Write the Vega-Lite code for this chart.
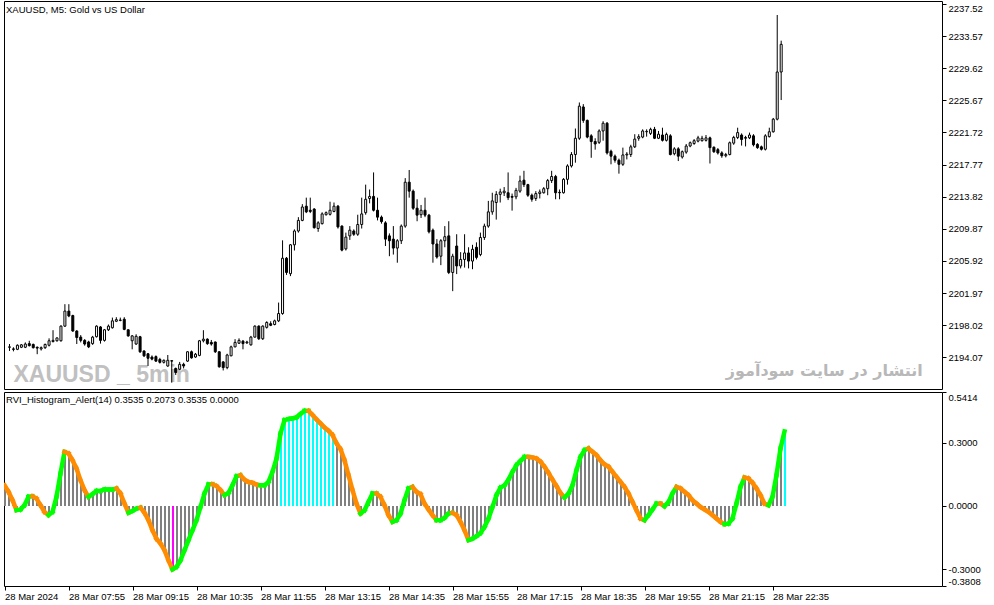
{
"$schema": "https://vega.github.io/schema/vega-lite/v6.json",
"background": "white",
"padding": {"left": 3, "top": 0, "right": 4, "bottom": 0},
"bounds": "flush",
"spacing": 3,
"data": {"format": {"parse": {"t": "utc:'%H:%M'"}}, "values": [
{"t":"06:35","o":2195.3,"h":2195.7,"l":2194.85,"c":2195.35,"v":0.098},
{"t":"06:40","o":2195.1,"h":2195.3,"l":2194.8,"c":2195.05,"v":0.067},
{"t":"06:45","o":2195.05,"h":2195.65,"l":2194.95,"c":2195.55,"v":0.027},
{"t":"06:50","o":2195.3,"h":2195.7,"l":2195.2,"c":2195.6,"v":-0.02},
{"t":"06:55","o":2195.3,"h":2195.9,"l":2195.2,"c":2195.7,"v":-0.017},
{"t":"07:00","o":2195.75,"h":2196.1,"l":2195.4,"c":2195.5,"v":0.003},
{"t":"07:05","o":2195.65,"h":2195.75,"l":2195.15,"c":2195.25,"v":0.043},
{"t":"07:10","o":2195.3,"h":2195.4,"l":2194.45,"c":2195.2,"v":0.046},
{"t":"07:15","o":2195.1,"h":2195.4,"l":2194.9,"c":2195.25,"v":0.035},
{"t":"07:20","o":2195.25,"h":2195.75,"l":2195.1,"c":2195.65,"v":0.003},
{"t":"07:25","o":2195.55,"h":2196.4,"l":2195.4,"c":2196.1,"v":-0.029},
{"t":"07:30","o":2196.0,"h":2197.4,"l":2195.9,"c":2196.15,"v":-0.044},
{"t":"07:35","o":2196.1,"h":2196.5,"l":2196.0,"c":2196.45,"v":-0.029},
{"t":"07:40","o":2196.1,"h":2198.0,"l":2196.0,"c":2197.9,"v":0.043},
{"t":"07:45","o":2197.9,"h":2200.6,"l":2197.8,"c":2199.75,"v":0.154},
{"t":"07:50","o":2199.75,"h":2200.6,"l":2199.0,"c":2199.15,"v":0.257},
{"t":"07:55","o":2199.2,"h":2199.3,"l":2197.2,"c":2197.3,"v":0.249},
{"t":"08:00","o":2197.3,"h":2197.4,"l":2195.7,"c":2196.5,"v":0.217},
{"t":"08:05","o":2196.55,"h":2196.8,"l":2195.9,"c":2196.15,"v":0.178},
{"t":"08:10","o":2196.15,"h":2196.3,"l":2195.5,"c":2195.7,"v":0.122},
{"t":"08:15","o":2195.95,"h":2196.1,"l":2195.2,"c":2195.35,"v":0.075},
{"t":"08:20","o":2195.75,"h":2196.7,"l":2195.6,"c":2196.55,"v":0.043},
{"t":"08:25","o":2196.6,"h":2198.0,"l":2196.5,"c":2197.9,"v":0.056},
{"t":"08:30","o":2197.8,"h":2197.9,"l":2195.75,"c":2196.15,"v":0.071},
{"t":"08:35","o":2196.15,"h":2197.55,"l":2196.0,"c":2197.45,"v":0.071},
{"t":"08:40","o":2197.45,"h":2198.1,"l":2197.3,"c":2197.9,"v":0.078},
{"t":"08:45","o":2197.7,"h":2198.95,"l":2197.6,"c":2198.55,"v":0.078},
{"t":"08:50","o":2198.5,"h":2199.0,"l":2198.4,"c":2198.7,"v":0.078},
{"t":"08:55","o":2198.6,"h":2198.95,"l":2198.5,"c":2198.65,"v":0.083},
{"t":"09:00","o":2198.75,"h":2199.0,"l":2197.4,"c":2197.5,"v":0.059},
{"t":"09:05","o":2197.45,"h":2197.5,"l":2196.6,"c":2196.7,"v":0.011},
{"t":"09:10","o":2196.1,"h":2196.8,"l":2195.05,"c":2196.7,"v":-0.033},
{"t":"09:15","o":2195.7,"h":2196.9,"l":2195.6,"c":2196.65,"v":-0.024},
{"t":"09:20","o":2196.6,"h":2196.7,"l":2194.6,"c":2194.75,"v":-0.013},
{"t":"09:25","o":2194.85,"h":2194.9,"l":2194.1,"c":2194.25,"v":-0.008},
{"t":"09:30","o":2194.5,"h":2194.6,"l":2193.0,"c":2193.95,"v":-0.033},
{"t":"09:35","o":2194.1,"h":2194.3,"l":2193.7,"c":2193.85,"v":-0.068},
{"t":"09:40","o":2194.15,"h":2194.3,"l":2193.5,"c":2193.6,"v":-0.116},
{"t":"09:45","o":2193.8,"h":2194.0,"l":2193.3,"c":2193.45,"v":-0.156},
{"t":"09:50","o":2193.45,"h":2193.8,"l":2193.3,"c":2193.7,"v":-0.179},
{"t":"09:55","o":2193.0,"h":2194.35,"l":2192.9,"c":2193.7,"v":-0.211},
{"t":"10:00","o":2193.65,"h":2193.7,"l":2190.95,"c":2193.6,"v":-0.259},
{"t":"10:05","o":2192.7,"h":2192.8,"l":2191.9,"c":2192.2,"v":-0.302},
{"t":"10:10","o":2192.6,"h":2193.5,"l":2192.5,"c":2193.2,"v":-0.29},
{"t":"10:15","o":2193.2,"h":2193.4,"l":2192.7,"c":2193.0,"v":-0.259},
{"t":"10:20","o":2193.6,"h":2194.8,"l":2193.5,"c":2194.75,"v":-0.211},
{"t":"10:25","o":2194.75,"h":2194.9,"l":2193.9,"c":2194.0,"v":-0.163},
{"t":"10:30","o":2194.1,"h":2194.6,"l":2194.0,"c":2194.45,"v":-0.116},
{"t":"10:35","o":2194.3,"h":2196.2,"l":2194.2,"c":2196.1,"v":-0.068},
{"t":"10:40","o":2196.1,"h":2197.4,"l":2195.9,"c":2196.3,"v":-0.005},
{"t":"10:45","o":2196.3,"h":2196.4,"l":2195.6,"c":2195.75,"v":0.059},
{"t":"10:50","o":2195.9,"h":2196.2,"l":2195.5,"c":2195.7,"v":0.102},
{"t":"10:55","o":2195.95,"h":2196.0,"l":2194.6,"c":2194.75,"v":0.103},
{"t":"11:00","o":2194.75,"h":2194.8,"l":2192.8,"c":2192.9,"v":0.094},
{"t":"11:05","o":2193.5,"h":2193.6,"l":2192.45,"c":2192.8,"v":0.075},
{"t":"11:10","o":2192.8,"h":2194.5,"l":2192.6,"c":2194.35,"v":0.051},
{"t":"11:15","o":2194.25,"h":2195.5,"l":2194.2,"c":2195.35,"v":0.062},
{"t":"11:20","o":2195.35,"h":2196.3,"l":2195.3,"c":2195.9,"v":0.098},
{"t":"11:25","o":2195.8,"h":2196.4,"l":2195.7,"c":2196.15,"v":0.141},
{"t":"11:30","o":2196.05,"h":2196.2,"l":2195.05,"c":2195.75,"v":0.146},
{"t":"11:35","o":2195.85,"h":2196.1,"l":2195.7,"c":2195.95,"v":0.125},
{"t":"11:40","o":2195.6,"h":2196.7,"l":2195.5,"c":2196.55,"v":0.114},
{"t":"11:45","o":2196.55,"h":2198.0,"l":2196.5,"c":2197.9,"v":0.11},
{"t":"11:50","o":2197.9,"h":2198.0,"l":2196.2,"c":2196.35,"v":0.102},
{"t":"11:55","o":2196.35,"h":2198.0,"l":2196.2,"c":2197.9,"v":0.098},
{"t":"12:00","o":2197.75,"h":2198.5,"l":2197.6,"c":2198.35,"v":0.098},
{"t":"12:05","o":2198.2,"h":2198.5,"l":2197.9,"c":2198.0,"v":0.114},
{"t":"12:10","o":2198.1,"h":2198.7,"l":2198.0,"c":2198.55,"v":0.162},
{"t":"12:15","o":2198.55,"h":2200.8,"l":2198.4,"c":2199.45,"v":0.225},
{"t":"12:20","o":2199.45,"h":2208.45,"l":2199.3,"c":2206.25,"v":0.344},
{"t":"12:25","o":2206.25,"h":2206.4,"l":2204.2,"c":2204.5,"v":0.408},
{"t":"12:30","o":2204.35,"h":2208.0,"l":2204.05,"c":2207.9,"v":0.413},
{"t":"12:35","o":2207.9,"h":2209.8,"l":2207.2,"c":2209.6,"v":0.416},
{"t":"12:40","o":2209.6,"h":2211.3,"l":2209.4,"c":2210.9,"v":0.421},
{"t":"12:45","o":2210.9,"h":2212.9,"l":2210.8,"c":2212.55,"v":0.437},
{"t":"12:50","o":2212.65,"h":2213.7,"l":2211.8,"c":2211.95,"v":0.452},
{"t":"12:55","o":2212.15,"h":2213.7,"l":2211.8,"c":2212.0,"v":0.452},
{"t":"13:00","o":2212.3,"h":2212.4,"l":2209.9,"c":2210.0,"v":0.432},
{"t":"13:05","o":2209.9,"h":2210.8,"l":2209.5,"c":2210.6,"v":0.411},
{"t":"13:10","o":2210.5,"h":2211.9,"l":2210.4,"c":2211.7,"v":0.392},
{"t":"13:15","o":2211.6,"h":2212.0,"l":2211.5,"c":2211.85,"v":0.373},
{"t":"13:20","o":2211.65,"h":2213.2,"l":2211.5,"c":2212.15,"v":0.357},
{"t":"13:25","o":2212.0,"h":2213.1,"l":2211.9,"c":2212.65,"v":0.337},
{"t":"13:30","o":2212.65,"h":2212.8,"l":2209.9,"c":2210.1,"v":0.298},
{"t":"13:35","o":2210.2,"h":2210.3,"l":2207.1,"c":2207.25,"v":0.27},
{"t":"13:40","o":2207.4,"h":2209.4,"l":2207.2,"c":2208.85,"v":0.217},
{"t":"13:45","o":2209.0,"h":2210.2,"l":2208.5,"c":2209.7,"v":0.146},
{"t":"13:50","o":2209.6,"h":2209.8,"l":2209.0,"c":2209.2,"v":0.075},
{"t":"13:55","o":2209.2,"h":2211.6,"l":2209.0,"c":2210.4,"v":0.011},
{"t":"14:00","o":2210.4,"h":2213.7,"l":2209.9,"c":2211.7,"v":-0.037},
{"t":"14:05","o":2211.85,"h":2215.3,"l":2211.6,"c":2213.5,"v":-0.021},
{"t":"14:10","o":2213.6,"h":2214.7,"l":2213.0,"c":2213.85,"v":0.019},
{"t":"14:15","o":2213.85,"h":2216.8,"l":2212.0,"c":2212.15,"v":0.059},
{"t":"14:20","o":2212.15,"h":2213.7,"l":2210.9,"c":2211.3,"v":0.059},
{"t":"14:25","o":2211.3,"h":2211.5,"l":2210.5,"c":2210.75,"v":0.043},
{"t":"14:30","o":2210.6,"h":2210.8,"l":2207.75,"c":2208.6,"v":0.003},
{"t":"14:35","o":2209.0,"h":2209.3,"l":2206.5,"c":2208.4,"v":-0.044},
{"t":"14:40","o":2208.6,"h":2210.2,"l":2206.7,"c":2207.5,"v":-0.076},
{"t":"14:45","o":2207.5,"h":2208.6,"l":2205.7,"c":2208.4,"v":-0.068},
{"t":"14:50","o":2208.4,"h":2210.4,"l":2208.0,"c":2210.2,"v":-0.037},
{"t":"14:55","o":2210.2,"h":2216.1,"l":2210.0,"c":2215.6,"v":0.027},
{"t":"15:00","o":2215.6,"h":2217.1,"l":2213.7,"c":2214.5,"v":0.083},
{"t":"15:05","o":2214.5,"h":2214.7,"l":2212.2,"c":2212.4,"v":0.09},
{"t":"15:10","o":2212.4,"h":2213.5,"l":2210.8,"c":2211.55,"v":0.067},
{"t":"15:15","o":2211.6,"h":2212.8,"l":2211.2,"c":2212.15,"v":0.056},
{"t":"15:20","o":2212.15,"h":2213.7,"l":2211.3,"c":2211.55,"v":0.011},
{"t":"15:25","o":2211.55,"h":2211.7,"l":2209.3,"c":2209.5,"v":-0.017},
{"t":"15:30","o":2209.7,"h":2209.9,"l":2205.7,"c":2208.0,"v":-0.044},
{"t":"15:35","o":2208.0,"h":2208.6,"l":2206.2,"c":2206.4,"v":-0.068},
{"t":"15:40","o":2206.5,"h":2208.6,"l":2205.4,"c":2208.4,"v":-0.068},
{"t":"15:45","o":2208.4,"h":2210.2,"l":2207.6,"c":2208.9,"v":-0.057},
{"t":"15:50","o":2209.0,"h":2210.8,"l":2204.3,"c":2204.5,"v":-0.037},
{"t":"15:55","o":2204.5,"h":2206.8,"l":2202.2,"c":2206.5,"v":-0.033},
{"t":"16:00","o":2207.75,"h":2209.2,"l":2204.3,"c":2205.3,"v":-0.044},
{"t":"16:05","o":2205.3,"h":2207.0,"l":2205.0,"c":2206.1,"v":-0.076},
{"t":"16:10","o":2206.1,"h":2209.2,"l":2205.1,"c":2206.9,"v":-0.116},
{"t":"16:15","o":2206.9,"h":2207.6,"l":2205.0,"c":2205.9,"v":-0.163},
{"t":"16:20","o":2205.9,"h":2207.9,"l":2204.9,"c":2207.35,"v":-0.156},
{"t":"16:25","o":2207.6,"h":2208.2,"l":2206.1,"c":2206.35,"v":-0.144},
{"t":"16:30","o":2206.7,"h":2209.4,"l":2206.5,"c":2208.8,"v":-0.129},
{"t":"16:35","o":2208.8,"h":2210.5,"l":2208.5,"c":2210.2,"v":-0.1},
{"t":"16:40","o":2210.2,"h":2213.3,"l":2210.0,"c":2211.95,"v":-0.06},
{"t":"16:45","o":2211.95,"h":2214.3,"l":2211.6,"c":2213.3,"v":-0.005},
{"t":"16:50","o":2213.1,"h":2214.5,"l":2211.0,"c":2214.1,"v":0.051},
{"t":"16:55","o":2214.1,"h":2214.8,"l":2213.1,"c":2214.4,"v":0.087},
{"t":"17:00","o":2214.3,"h":2215.0,"l":2213.9,"c":2214.5,"v":0.098},
{"t":"17:05","o":2214.3,"h":2216.8,"l":2213.4,"c":2213.7,"v":0.125},
{"t":"17:10","o":2213.85,"h":2214.2,"l":2212.1,"c":2213.75,"v":0.162},
{"t":"17:15","o":2213.8,"h":2214.9,"l":2213.5,"c":2214.6,"v":0.194},
{"t":"17:20","o":2214.5,"h":2216.4,"l":2214.3,"c":2215.75,"v":0.214},
{"t":"17:25","o":2215.85,"h":2217.0,"l":2215.0,"c":2215.3,"v":0.233},
{"t":"17:30","o":2215.3,"h":2215.4,"l":2213.8,"c":2214.0,"v":0.233},
{"t":"17:35","o":2214.0,"h":2214.2,"l":2213.2,"c":2213.5,"v":0.23},
{"t":"17:40","o":2213.6,"h":2214.5,"l":2213.3,"c":2214.2,"v":0.225},
{"t":"17:45","o":2214.2,"h":2214.7,"l":2213.6,"c":2214.4,"v":0.21},
{"t":"17:50","o":2214.3,"h":2215.0,"l":2214.2,"c":2214.8,"v":0.186},
{"t":"17:55","o":2214.8,"h":2216.0,"l":2214.0,"c":2215.8,"v":0.157},
{"t":"18:00","o":2215.8,"h":2217.0,"l":2215.5,"c":2216.3,"v":0.125},
{"t":"18:05","o":2216.3,"h":2216.5,"l":2213.5,"c":2214.3,"v":0.094},
{"t":"18:10","o":2214.35,"h":2214.7,"l":2213.5,"c":2214.3,"v":0.062},
{"t":"18:15","o":2214.3,"h":2216.1,"l":2214.2,"c":2215.95,"v":0.04},
{"t":"18:20","o":2215.95,"h":2217.8,"l":2215.3,"c":2217.6,"v":0.059},
{"t":"18:25","o":2217.6,"h":2219.3,"l":2217.4,"c":2219.0,"v":0.098},
{"t":"18:30","o":2219.0,"h":2222.2,"l":2218.0,"c":2221.0,"v":0.17},
{"t":"18:35","o":2221.0,"h":2225.4,"l":2220.8,"c":2224.95,"v":0.233},
{"t":"18:40","o":2224.85,"h":2225.2,"l":2222.9,"c":2223.2,"v":0.265},
{"t":"18:45","o":2223.2,"h":2223.3,"l":2221.0,"c":2221.15,"v":0.273},
{"t":"18:50","o":2221.3,"h":2221.5,"l":2218.6,"c":2220.6,"v":0.257},
{"t":"18:55","o":2220.6,"h":2221.0,"l":2219.6,"c":2220.3,"v":0.241},
{"t":"19:00","o":2220.5,"h":2222.1,"l":2220.3,"c":2221.9,"v":0.217},
{"t":"19:05","o":2221.9,"h":2223.1,"l":2220.7,"c":2222.85,"v":0.198},
{"t":"19:10","o":2222.85,"h":2223.0,"l":2219.0,"c":2219.2,"v":0.186},
{"t":"19:15","o":2219.4,"h":2219.6,"l":2217.8,"c":2218.8,"v":0.162},
{"t":"19:20","o":2218.8,"h":2219.0,"l":2218.0,"c":2218.3,"v":0.138},
{"t":"19:25","o":2218.3,"h":2218.5,"l":2216.65,"c":2217.8,"v":0.114},
{"t":"19:30","o":2217.8,"h":2219.85,"l":2217.6,"c":2218.95,"v":0.09},
{"t":"19:35","o":2218.95,"h":2219.3,"l":2218.4,"c":2219.05,"v":0.059},
{"t":"19:40","o":2219.0,"h":2220.2,"l":2218.7,"c":2219.95,"v":0.019},
{"t":"19:45","o":2219.95,"h":2221.5,"l":2219.8,"c":2220.9,"v":-0.021},
{"t":"19:50","o":2221.0,"h":2221.5,"l":2220.7,"c":2221.2,"v":-0.06},
{"t":"19:55","o":2221.15,"h":2222.1,"l":2221.0,"c":2221.9,"v":-0.068},
{"t":"20:00","o":2221.8,"h":2222.1,"l":2221.2,"c":2221.85,"v":-0.044},
{"t":"20:05","o":2221.6,"h":2222.3,"l":2221.4,"c":2222.1,"v":-0.017},
{"t":"20:10","o":2222.1,"h":2222.4,"l":2220.9,"c":2221.0,"v":0.011},
{"t":"20:15","o":2221.0,"h":2221.9,"l":2220.9,"c":2221.5,"v":0.011},
{"t":"20:20","o":2221.4,"h":2222.3,"l":2220.6,"c":2220.75,"v":-0.002},
{"t":"20:25","o":2220.75,"h":2221.7,"l":2220.6,"c":2221.48,"v":0.019},
{"t":"20:30","o":2221.3,"h":2221.5,"l":2218.9,"c":2219.0,"v":0.059},
{"t":"20:35","o":2219.1,"h":2219.9,"l":2218.9,"c":2219.7,"v":0.09},
{"t":"20:40","o":2219.7,"h":2219.9,"l":2218.2,"c":2218.8,"v":0.083},
{"t":"20:45","o":2218.7,"h":2219.5,"l":2218.5,"c":2219.35,"v":0.067},
{"t":"20:50","o":2219.3,"h":2220.3,"l":2219.1,"c":2220.05,"v":0.051},
{"t":"20:55","o":2220.05,"h":2220.6,"l":2219.9,"c":2220.45,"v":0.027},
{"t":"21:00","o":2220.35,"h":2220.9,"l":2220.2,"c":2220.7,"v":0.011},
{"t":"21:05","o":2220.65,"h":2221.3,"l":2220.5,"c":2221.05,"v":-0.005},
{"t":"21:10","o":2220.7,"h":2221.3,"l":2220.6,"c":2221.0,"v":-0.017},
{"t":"21:15","o":2220.75,"h":2221.4,"l":2220.6,"c":2221.05,"v":-0.029},
{"t":"21:20","o":2221.05,"h":2221.2,"l":2217.9,"c":2219.85,"v":-0.044},
{"t":"21:25","o":2219.9,"h":2220.0,"l":2219.2,"c":2219.35,"v":-0.06},
{"t":"21:30","o":2219.6,"h":2219.8,"l":2219.0,"c":2219.2,"v":-0.076},
{"t":"21:35","o":2219.2,"h":2219.4,"l":2218.6,"c":2218.85,"v":-0.087},
{"t":"21:40","o":2218.85,"h":2219.2,"l":2218.65,"c":2219.0,"v":-0.084},
{"t":"21:45","o":2219.0,"h":2220.6,"l":2218.9,"c":2220.45,"v":-0.06},
{"t":"21:50","o":2220.4,"h":2221.3,"l":2220.2,"c":2221.1,"v":0.011},
{"t":"21:55","o":2221.1,"h":2222.3,"l":2220.9,"c":2221.7,"v":0.09},
{"t":"22:00","o":2221.4,"h":2221.6,"l":2220.1,"c":2220.85,"v":0.135},
{"t":"22:05","o":2221.0,"h":2221.3,"l":2220.0,"c":2221.1,"v":0.13},
{"t":"22:10","o":2221.05,"h":2221.7,"l":2220.9,"c":2221.4,"v":0.11},
{"t":"22:15","o":2221.3,"h":2221.5,"l":2220.0,"c":2220.2,"v":0.083},
{"t":"22:20","o":2220.25,"h":2220.4,"l":2219.7,"c":2219.85,"v":0.051},
{"t":"22:25","o":2219.95,"h":2220.1,"l":2219.5,"c":2219.65,"v":0.011},
{"t":"22:30","o":2219.65,"h":2221.5,"l":2219.5,"c":2221.3,"v":0.003},
{"t":"22:35","o":2221.2,"h":2222.3,"l":2221.1,"c":2221.8,"v":0.043},
{"t":"22:40","o":2221.8,"h":2223.5,"l":2221.7,"c":2223.35,"v":0.146},
{"t":"22:45","o":2223.35,"h":2236.16,"l":2223.2,"c":2229.15,"v":0.273},
{"t":"22:50","o":2229.15,"h":2233.0,"l":2225.7,"c":2232.55,"v":0.3535}
]},
"config": {
  "view": {"stroke": "black", "strokeWidth": 1},
  "axis": {"labelFont": "Liberation Sans", "labelFontSize": 9.5, "labelColor": "black", "tickColor": "black", "domain": false, "grid": false, "labelOverlap": false},
  "title": {"font": "Liberation Sans", "fontSize": 9.5, "fontWeight": "normal", "color": "black", "anchor": "start"}
},
"vconcat": [
  {
    "width": 938, "height": 388,
    "title": {"text": "XAUUSD, M5:  Gold vs US Dollar", "offset": -13, "dx": 2},
    "encoding": {
      "x": {"field": "t", "type": "temporal", "title": null, "axis": null,
        "scale": {"type": "utc", "domain": [-2208965137500, -2208894787500]}}
    },
    "layer": [
      {
        "transform": [{"filter": "utcFormat(datum.t, '%H:%M') == '06:40'"}],
        "mark": {"type": "text", "text": "XAUUSD _ 5min", "align": "left", "baseline": "alphabetic", "font": "Liberation Sans", "fontSize": 23, "fontWeight": "bold", "color": "#c0c0c0"},
        "encoding": {
          "y": {"datum": 2191.04, "type": "quantitative", "title": null}
        }
      },
      {
        "transform": [{"filter": "utcFormat(datum.t, '%H:%M') == '21:40'"}],
        "mark": {"type": "text", "text": "انتشار در سایت سودآموز", "align": "left", "baseline": "alphabetic", "font": "DejaVu Sans", "fontSize": 16, "fontWeight": "bold", "color": "#b8b8b8"},
        "encoding": {
          "y": {"datum": 2191.77, "type": "quantitative", "title": null}
        }
      },
      {
        "mark": {"type": "rule", "color": "black", "strokeWidth": 1, "clip": true},
        "encoding": {
          "y": {"field": "l", "type": "quantitative", "title": null,
            "scale": {"domain": [2190.17, 2237.88], "zero": false, "nice": false},
            "axis": {"orient": "right", "values": [2194.07, 2198.02, 2201.97, 2205.92, 2209.87, 2213.82, 2217.77, 2221.72, 2225.67, 2229.62, 2233.57, 2237.52], "tickCount": 40, "format": ".2f", "tickSize": 4, "labelPadding": 2, "labelFlush": 4, "labelOverlap": false}},
          "y2": {"field": "h"}
        }
      },
      {
        "mark": {"type": "bar", "size": 2, "stroke": "black", "strokeWidth": 1, "clip": true},
        "encoding": {
          "y": {"field": "o", "type": "quantitative", "title": null},
          "y2": {"field": "c"},
          "fill": {"condition": {"test": "datum.c >= datum.o", "value": "white"}, "value": "black"}
        }
      }
    ]
  },
  {
    "width": 938, "height": 194,
    "title": {"text": "RVI_Histogram_Alert(14) 0.3535 0.2073 0.3535 0.0000", "offset": -13, "dx": 2},
    "encoding": {
      "x": {"field": "t", "type": "temporal", "title": null,
        "scale": {"type": "utc", "domain": [-2208965137500, -2208894787500]},
        "axis": {"values": [-2208965100000, -2208960300000, -2208955500000, -2208950700000, -2208945900000, -2208941100000, -2208936300000, -2208931500000, -2208926700000, -2208921900000, -2208917100000, -2208912300000, -2208907500000],
          "tickCount": 40,
          "labelExpr": "utcFormat(datum.value, '%H:%M') == '06:35' ? '28 Mar 2024' : '28 Mar ' + utcFormat(datum.value, '%H:%M')",
          "labelAlign": "left", "labelBaseline": "top", "tickSize": 4, "labelPadding": 1, "labelFlush": false, "labelOverlap": false}}
    },
    "layer": [
      {
        "data": {"values": [{}]},
        "mark": {"type": "rule", "color": "#008000", "strokeWidth": 1, "strokeDash": [8, 3, 2, 3]},
        "encoding": {"y": {"datum": 0.3, "type": "quantitative", "title": null}}
      },
      {
        "data": {"values": [{}]},
        "mark": {"type": "rule", "color": "#808080", "strokeWidth": 1, "strokeDash": [8, 3, 2, 3]},
        "encoding": {"y": {"datum": 0, "type": "quantitative", "title": null}}
      },
      {
        "data": {"values": [{}]},
        "mark": {"type": "rule", "color": "#b22222", "strokeWidth": 1, "strokeDash": [8, 3, 2, 3]},
        "encoding": {"y": {"datum": -0.3, "type": "quantitative", "title": null}}
      },
      {
        "mark": {"type": "rule", "strokeWidth": 2, "xOffset": 0.5, "clip": true},
        "encoding": {
          "y": {"field": "v", "type": "quantitative", "title": null,
            "scale": {"domain": [-0.3808, 0.5414], "zero": false, "nice": false},
            "axis": {"orient": "right", "values": [-0.3808, -0.3, 0, 0.3, 0.5414], "tickCount": 40, "labelExpr": "replace(format(datum.value, '.4f'), '\u2212', '-')", "tickSize": 4, "labelPadding": 2, "labelFlush": true, "labelOverlap": false}},
          "y2": {"datum": 0},
          "color": {"condition": [{"test": "datum.v > 0.3", "value": "#00ffff"}, {"test": "datum.v < -0.3", "value": "#ff00ff"}], "value": "#808080"}
        }
      },
      {
        "transform": [
          {"window": [{"op": "lag", "field": "v", "as": "pv"}, {"op": "lag", "field": "t", "as": "pt"}]},
          {"filter": "datum.pv != null"}
        ],
        "mark": {"type": "rule", "strokeWidth": 4.5, "strokeCap": "square", "clip": true},
        "encoding": {
          "x": {"field": "pt", "type": "temporal", "title": null},
          "x2": {"field": "t"},
          "y": {"field": "pv", "type": "quantitative", "title": null},
          "y2": {"field": "v"},
          "color": {"condition": {"test": "datum.v >= datum.pv", "value": "#00ff00"}, "value": "#ff8c00"}
        }
      }
    ]
  }
]
}
